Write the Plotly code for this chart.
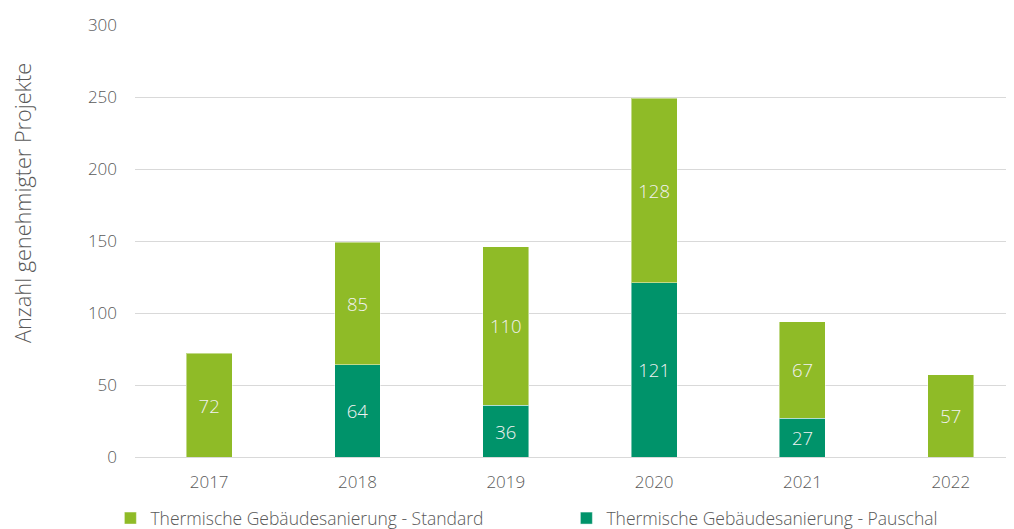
import plotly.graph_objects as go

years = ["2017", "2018", "2019", "2020", "2021", "2022"]
standard = [72, 85, 110, 128, 67, 57]
pauschal = [None, 64, 36, 121, 27, None]
y_ticks = [0, 50, 100, 150, 200, 250, 300]

FONT = "Open Sans"
GRAY = "#595959"
LIGHT = "#8FBB27"
DARK = "#00936A"

fig = go.Figure()
fig.add_trace(go.Bar(
    x=years, y=pauschal, name="Thermische Gebäudesanierung - Pauschal",
    marker=dict(color=DARK, line=dict(color="rgba(255,255,255,0.45)", width=1)),
    text=[str(v) if v is not None else "" for v in pauschal],
    textposition="inside", insidetextanchor="middle",
    textfont=dict(color="#F2F2F2", size=18.5, family=FONT, weight=300),
    width=0.31, legendrank=2,
))
fig.add_trace(go.Bar(
    x=years, y=standard, name="Thermische Gebäudesanierung - Standard",
    marker=dict(color=LIGHT, line=dict(color="rgba(255,255,255,0.45)", width=1)),
    text=[str(v) for v in standard],
    textposition="inside", insidetextanchor="middle",
    textfont=dict(color="#F2F2F2", size=18.5, family=FONT, weight=300),
    width=0.31, legendrank=1,
))

plot_h = 521 - 17 - 72
title_y = (457 - 203) / plot_h

fig.update_layout(
    barmode="stack",
    width=1006, height=521,
    margin=dict(l=127, r=0, t=17, b=72, autoexpand=False),
    paper_bgcolor="white", plot_bgcolor="white",
    font=dict(family=FONT, color=GRAY, size=17, weight=300),
    showlegend=True,
    legend=dict(
        orientation="h", x=-0.028, xanchor="left", y=-0.100, yanchor="top",
        traceorder="normal",
        font=dict(size=17.5, color=GRAY, family=FONT, weight=300),
        entrywidth=411, entrywidthmode="pixels",
        itemwidth=30, tracegroupgap=0,
    ),
    xaxis=dict(
        type="category", range=[-0.5, 5.426],
        showgrid=False, zeroline=False, showline=False, ticks="",
        ticklabelstandoff=13,
        tickfont=dict(size=17, color=GRAY),
    ),
    yaxis=dict(
        range=[0, 300], tickvals=y_ticks, ticktext=[str(v) for v in y_ticks],
        showgrid=True, gridcolor="#D9D9D9", gridwidth=1,
        zeroline=True, zerolinecolor="#D9D9D9", zerolinewidth=1,
        showline=False, ticks="", ticklabelstandoff=17,
        tickfont=dict(size=17, color=GRAY),
        automargin=False,
    ),
    annotations=[dict(
        text="Anzahl genehmigter Projekte", textangle=-90,
        xref="paper", yref="paper", x=(14 - 127) / 879, y=title_y,
        xanchor="center", yanchor="middle", showarrow=False,
        font=dict(size=21.7, color=GRAY, family=FONT, weight=300),
    )],
)

fig.write_html("out.html")
